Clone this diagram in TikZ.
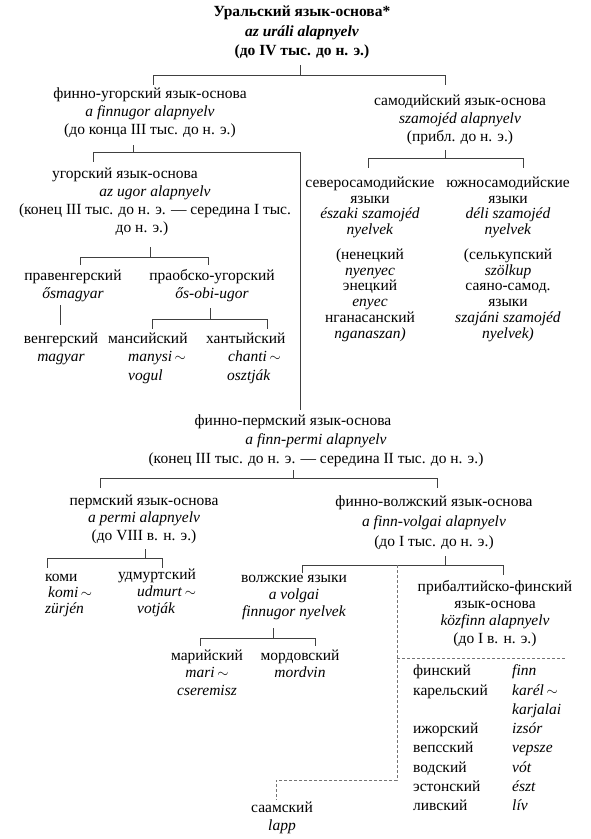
\documentclass[tikz,border=0pt]{standalone}
\usepackage{fontspec}
\setmainfont{Liberation Serif}
\newcommand{\swung}{\ensuremath{\sim}}

\begin{document}
\begin{tikzpicture}[x=1pt,y=-1pt,
    lang/.style={align=center,inner sep=0pt,anchor=north,font=\fontsize{15.5}{18}\selectfont},
    branch/.style={draw=black!75,line width=.7pt},
    dashbranch/.style={draw=black!55,line width=.7pt,dash pattern=on 3pt off 2pt}]
  \useasboundingbox (0,0) rectangle (591,839);

  % root
  \node[lang,font=\fontsize{15.5}{19.5}\selectfont\bfseries] (ural) at (302,3)
    {\strut Уральский язык-основа*\\\textit{az uráli alapnyelv}\\(до IV тыс. до н. э.)};

  % finno-ugric and samoyed
  \node[lang] (finnugor) at (150,86)
    {\strut финно-угорский язык-основа\\\textit{a finnugor alapnyelv}\\(до конца III тыс. до н. э.)};
  \node[lang] (samoyed) at (460,93)
    {\strut самодийский язык-основа\\\textit{szamojéd alapnyelv}\\(прибл. до н. э.)};

  \node[lang,font=\fontsize{15.5}{15.8}\selectfont] (northsam) at (370,176)
    {\strut северосамодийские\\языки\\\textit{északi szamojéd}\\\textit{nyelvek}\\[8.8pt]
     (ненецкий\\\textit{nyenyec}\\энецкий\\\textit{enyec}\\нганасанский\\\textit{nganaszan)}};
  \node[lang,font=\fontsize{15.5}{15.8}\selectfont] (southsam) at (508,176)
    {\strut южносамодийские\\языки\\\textit{déli szamojéd}\\\textit{nyelvek}\\[8.8pt]
     (селькупский\\\textit{szölkup}\\саяно-самод.\\языки\\\textit{szajáni szamojéd}\\\textit{nyelvek)}};

  % ugric
  \node[lang] (ugric) at (155,166)
    {\strut угорский язык-основа\hspace*{60pt}\\\textit{az ugor alapnyelv}\hspace*{60pt}\\
     (конец III тыс. до н. э. — середина I тыс.\\до н. э.)\hspace*{26pt}};
  \node[lang] (prahung) at (73,268) {\strut правенгерский\\\textit{ősmagyar}};
  \node[lang] (praob) at (212,268) {\strut праобско-угорский\\\textit{ős-obi-ugor}};
  \node[lang] (hung) at (61,331) {\strut венгерский\\\textit{magyar}};
  \node[lang,align=left,anchor=north west,font=\fontsize{15.5}{18.5}\selectfont] (mansi) at (108,330)
    {\strut мансийский\\\hspace*{20pt}\textit{manysi}\,\swung\\\hspace*{20pt}\textit{vogul}};
  \node[lang,align=left,anchor=north west,font=\fontsize{15.5}{18.5}\selectfont] (khanty) at (206,330)
    {\strut хантыйский\\\hspace*{22pt}\textit{chanti}\,\swung\\\hspace*{21pt}\textit{osztják}};

  % finno-permic
  \node[lang,font=\fontsize{15.5}{19}\selectfont] (finnperm) at (316,412)
    {\strut финно-пермский язык-основа\hspace*{46pt}\\\textit{a finn-permi alapnyelv}\hspace*{44pt}\\
     (конец III тыс. до н. э. — середина II тыс. до н. э.)};
  \node[lang,font=\fontsize{15.5}{17.5}\selectfont] (perm) at (144,493)
    {\strut пермский язык-основа\\\textit{a permi alapnyelv}\\(до VIII в. н. э.)};
  \node[lang,font=\fontsize{15.5}{20}\selectfont] (finnvolg) at (434,492)
    {\strut финно-волжский язык-основа\\\textit{a finn-volgai alapnyelv}\\(до I тыс. до н. э.)};

  \node[lang,align=left,anchor=north west,font=\fontsize{15.5}{16}\selectfont] (komi) at (45,570)
    {\strut коми\\\hspace*{3pt}\textit{komi}\,\swung\\\textit{zürjén}};
  \node[lang,align=left,anchor=north west,font=\fontsize{15.5}{17}\selectfont] (udmurt) at (118,567)
    {\strut удмуртский\\\hspace*{19pt}\textit{udmurt}\,\swung\\\hspace*{19pt}\textit{votják}};

  \node[lang,font=\fontsize{15.5}{17}\selectfont] (volga) at (294,570)
    {\strut волжские языки\\\textit{a volgai}\\\textit{finnugor nyelvek}};
  \node[lang,font=\fontsize{15.5}{17.5}\selectfont] (mari) at (207,648)
    {\strut марийский\\\textit{mari}\,\swung\\\textit{cseremisz}};
  \node[lang,font=\fontsize{15.5}{17.5}\selectfont] (mordvin) at (300,648)
    {\strut мордовский\\\textit{mordvin}};

  \node[lang,font=\fontsize{15.5}{17.3}\selectfont] (baltic) at (495,579)
    {\strut прибалтийско-финский\\язык-основа\\\textit{közfinn alapnyelv}\\(до I в. н. э.)};
  \node[inner sep=0pt,anchor=north west,font=\fontsize{15.5}{18}\selectfont] (balticlist) at (413,662)
    {\renewcommand{\arraystretch}{1.072}%
     \begin{tabular}[t]{@{}p{99pt}@{}l@{}}
       финский & \textit{finn}\\
       карельский & \textit{karél}\,\swung\\
                  & \textit{karjalai}\\
       ижорский & \textit{izsór}\\
       вепсский & \textit{vepsze}\\
       водский & \textit{vót}\\
       эстонский & \textit{észt}\\
       ливский & \textit{lív}
     \end{tabular}};
  \node[lang] (saami) at (282,800) {\strut саамский\\\textit{lapp}};

  % solid branches
  \coordinate (uralT) at (300,65);  \coordinate (uralL) at (153,75);  \coordinate (uralR) at (445,75);
  \draw[branch] (uralT) -- (uralT |- uralL) (uralL) -- (uralR)
    (uralL) -- ++(0,10) (uralR) -- ++(0,10);

  \coordinate (fuT) at (133,145);  \coordinate (fuL) at (93,152);  \coordinate (fuR) at (300,152);
  \coordinate (fpTop) at (300,410);
  \draw[branch] (fuT) -- (fuT |- fuL) (fuL) -- (fuR) (fuL) -- ++(0,10) (fuR) -- (fpTop);

  \coordinate (samT) at (445,150);  \coordinate (samL) at (368,158);  \coordinate (samR) at (523,158);
  \draw[branch] (samT) -- (samT |- samL) (samL) -- (samR)
    (samL) -- ++(0,10) (samR) -- ++(0,10);

  \coordinate (ugT) at (150,247);  \coordinate (ugL) at (80,257);  \coordinate (ugR) at (208,257);
  \draw[branch] (ugT) -- (ugT |- ugL) (ugL) -- (ugR)
    (ugL) -- ++(0,8) (ugR) -- ++(0,8);

  \coordinate (phT) at (60,305);
  \draw[branch] (phT) -- ++(0,20);

  \coordinate (obT) at (210,308);  \coordinate (obL) at (152,319);  \coordinate (obR) at (267,319);
  \draw[branch] (obT) -- (obT |- obL) (obL) -- (obR)
    (obL) -- ++(0,10) (obR) -- ++(0,10);

  \coordinate (fpT) at (293,470);  \coordinate (fpL) at (100,478);  \coordinate (fpR) at (437,478);
  \draw[branch] (fpT) -- (fpT |- fpL) (fpL) -- (fpR)
    (fpL) -- ++(0,10) (fpR) -- ++(0,10);

  \coordinate (pmT) at (145,549);  \coordinate (pmL) at (47,558);  \coordinate (pmR) at (162,558);
  \draw[branch] (pmT) -- (pmT |- pmL) (pmL) -- (pmR)
    (pmL) -- ++(0,10) (pmR) -- ++(0,10);

  \coordinate (fvT) at (445,556);  \coordinate (fvL) at (302,565);  \coordinate (fvR) at (503,565);
  \draw[branch] (fvT) -- (fvT |- fvL) (fvL) -- (fvR)
    (fvL) -- ++(0,8) (fvR) -- ++(0,10);

  \coordinate (vgT) at (273,628);  \coordinate (vgL) at (200,638);  \coordinate (vgR) at (315,638);
  \draw[branch] (vgT) -- (vgT |- vgL) (vgL) -- (vgR)
    (vgL) -- ++(0,8) (vgR) -- ++(0,8);

  % dashed links
  \coordinate (dsTop) at (397,565);  \coordinate (dsBot) at (397,780);
  \coordinate (dsMid) at (397,658);  \coordinate (dsEnd) at (565,658);
  \coordinate (saT) at (276,780);
  \draw[dashbranch] (dsTop) -- (dsBot) -- (saT) -- ++(0,20);
  \draw[dashbranch] (dsMid) -- (dsEnd);
\end{tikzpicture}
\end{document}
